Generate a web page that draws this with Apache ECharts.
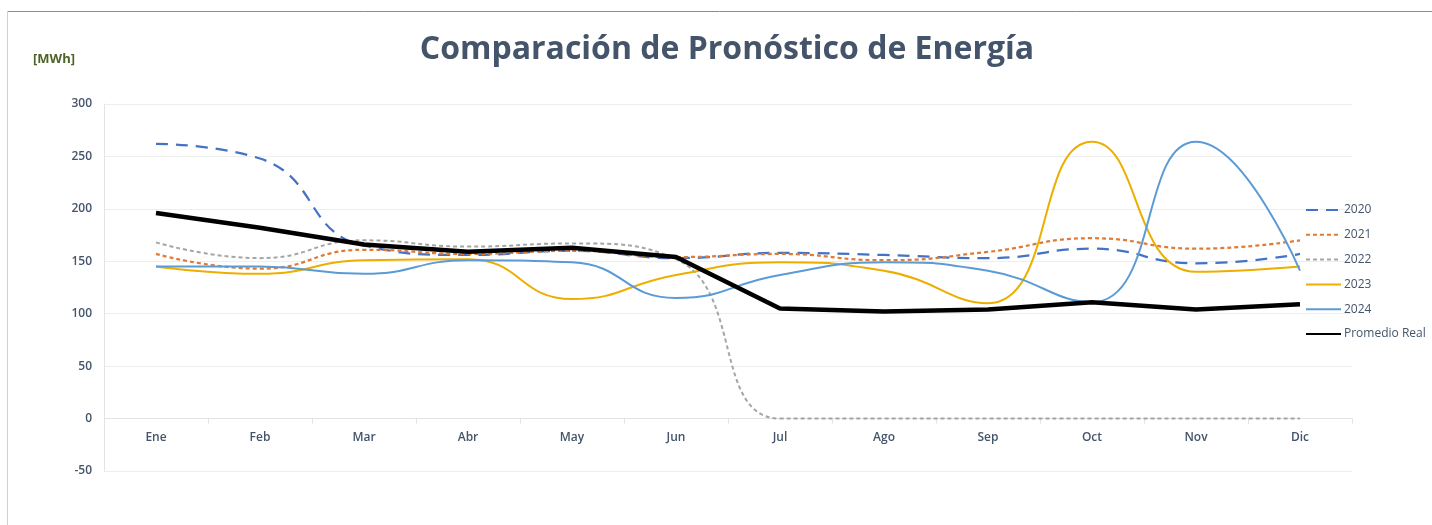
<!DOCTYPE html>
<html>
<head>
<meta charset="utf-8">
<script src="https://cdn.jsdelivr.net/npm/echarts@6/dist/echarts.min.js"></script>
<style>
html,body{margin:0;padding:0;background:#fff;}
#chart{width:1432px;height:525px;}
</style>
</head>
<body>
<div id="chart"></div>
<script>
const months = ['Ene','Feb','Mar','Abr','May','Jun','Jul','Ago','Sep','Oct','Nov','Dic'];
const s2020 = [262, 248, 165, 156, 160, 153, 158, 156, 153, 162, 148, 157];
const s2021 = [157, 143, 161, 157, 160, 154, 157, 151, 159, 172, 162, 170];
const s2022 = [168, 153, 170, 164, 167, 152, 0, 0, 0, 0, 0, 0];
const s2023 = [145, 138, 151, 152, 114, 137, 149, 141, 110, 264, 140, 145];
const s2024 = [145, 145, 138, 151, 149, 115, 137, 149, 141, 111, 264, 141];
const promedio = [196, 182, 166, 159, 163, 154, 105, 102, 104, 111, 104, 109];
const titleText = 'Comparación de Pronóstico de Energía';
const unitText = '[MWh]';

const FONT = '"Open Sans", "Liberation Sans", sans-serif';
const TXT = '#44546A';
const chart = echarts.init(document.getElementById('chart'), null, {renderer: 'canvas'});

function mk(name, data, color, width, dash, smooth) {
  return {
    name: name, type: 'line', data: data, symbol: 'none', smooth: smooth,
    lineStyle: {color: color, width: width, type: dash, cap: 'butt'},
    itemStyle: {color: color},
    emphasis: {disabled: true}
  };
}

chart.setOption({
  animation: false,
  backgroundColor: '#ffffff',
  title: {
    text: titleText, left: 722, top: 29, textAlign: 'center',
    textStyle: {fontFamily: FONT, fontWeight: 'bold', fontSize: 32, color: TXT}
  },
  graphic: [
    {type: 'line', shape: {x1: 7, y1: 11.5, x2: 1432, y2: 11.5}, style: {stroke: '#8c8c8c', lineWidth: 1}},
    {type: 'line', shape: {x1: 7.5, y1: 11, x2: 7.5, y2: 525}, style: {stroke: '#d0d0d0', lineWidth: 1}},
    {type: 'text', left: 33, top: 53, style: {text: unitText, fontFamily: FONT, fontWeight: 'bold', fontSize: 13, fill: '#4F6228'}}
  ],
  legend: {
    orient: 'vertical', left: 1305, top: 204, padding: 0, itemWidth: 35, itemHeight: 14, itemGap: 12.8,
    itemStyle: {opacity: 0},
    textStyle: {fontFamily: FONT, fontSize: 12, color: TXT, padding: [0,0,0,-2]},
    data: ['2020','2021','2022','2023','2024','Promedio Real']
  },
  grid: {left: 104, right: 80, top: 104, bottom: 54},
  xAxis: {
    type: 'category', data: months, boundaryGap: true, offset: -52.3,
    axisLine: {onZero: false, lineStyle: {color: '#e3e3e3'}},
    axisTick: {show: true, length: 5, lineStyle: {color: '#e3e3e3'}},
    axisLabel: {fontFamily: FONT, fontWeight: 600, fontSize: 12, color: TXT, margin: 13}
  },
  yAxis: {
    type: 'value', min: -50, max: 300, interval: 50,
    axisLine: {show: true, lineStyle: {color: '#e3e3e3'}},
    axisTick: {show: false},
    splitLine: {lineStyle: {color: '#eeeeee'}},
    axisLabel: {fontFamily: FONT, fontWeight: 600, fontSize: 12, color: TXT, margin: 12}
  },
  series: [
    mk('2020', s2020, '#4472C4', 2.25, [12, 8], 0.5),
    mk('2021', s2021, '#E07B35', 2.25, [4, 3], 0.5),
    mk('2022', s2022, '#A5A5A5', 2, [4, 3], 0.5),
    mk('2023', s2023, '#EDAE00', 2, 'solid', 0.5),
    mk('2024', s2024, '#5B9BD5', 2, 'solid', 0.5),
    mk('Promedio Real', promedio, '#000000', 4.5, 'solid', false)
  ]
});
</script>
</body>
</html>
